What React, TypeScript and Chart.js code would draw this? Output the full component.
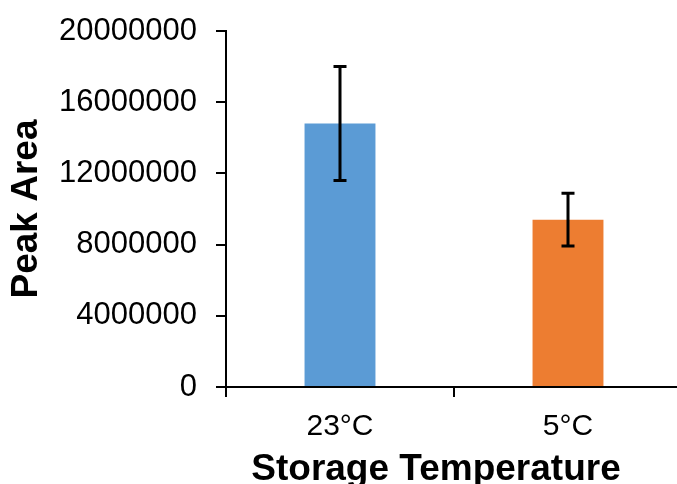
import React, { useEffect, useRef } from "react";
import { Chart, registerables } from "chart.js";

Chart.register(...registerables);

const categories = ["23°C", "5°C"];
const peakArea = [14800000, 9400000];
const errorValues = [3200000, 1480000];
const barColors = ["#5B9BD5", "#ED7D31"];
const yTicks = [0, 4000000, 8000000, 12000000, 16000000, 20000000];
const yTitle = "Peak Area";
const xTitle = "Storage Temperature";

const FONT = "'Liberation Sans', Arial, sans-serif";
const CANVAS_W = 700;
const CANVAS_H = 484;

const errorBarPlugin = {
  id: "errorBars",
  afterDatasetsDraw(chart: any) {
    const ctx = chart.ctx;
    const meta = chart.getDatasetMeta(0);
    const yScale = chart.scales.y;
    ctx.save();
    ctx.strokeStyle = "#000000";
    ctx.lineWidth = 3;
    meta.data.forEach((bar: any, i: number) => {
      const v = peakArea[i];
      const e = errorValues[i];
      const x = bar.x;
      const yTop = yScale.getPixelForValue(v + e);
      const yBot = yScale.getPixelForValue(v - e);
      const cap = 6.5;
      ctx.beginPath();
      ctx.moveTo(x, yTop);
      ctx.lineTo(x, yBot);
      ctx.moveTo(x - cap, yTop);
      ctx.lineTo(x + cap, yTop);
      ctx.moveTo(x - cap, yBot);
      ctx.lineTo(x + cap, yBot);
      ctx.stroke();
    });
    ctx.restore();
  },
};

const xTitlePlugin = {
  id: "xTitleOffset",
  afterDraw(chart: any) {
    const ctx = chart.ctx;
    const area = chart.chartArea;
    ctx.save();
    ctx.font = `bold 37px ${FONT}`;
    ctx.fillStyle = "#000000";
    ctx.textAlign = "center";
    ctx.textBaseline = "alphabetic";
    ctx.fillText(xTitle, area.left + 210, CANVAS_H - 4);
    ctx.restore();
  },
};

export default function App() {
  const canvasRef = useRef<HTMLCanvasElement | null>(null);

  useEffect(() => {
    if (!canvasRef.current) return;
    const chart = new Chart(canvasRef.current, {
      type: "bar",
      data: {
        labels: categories,
        datasets: [
          {
            data: peakArea,
            backgroundColor: barColors,
            borderWidth: 0,
            categoryPercentage: 1,
            barPercentage: 0.311,
          },
        ],
      },
      options: {
        responsive: false,
        animation: false,
        devicePixelRatio: 1,
        layout: { padding: { top: 31, right: CANVAS_W - 682, left: 0, bottom: 0 } },
        plugins: {
          legend: { display: false },
          tooltip: { enabled: false },
        },
        scales: {
          x: {
            offset: true,
            border: { display: true, color: "#000000", width: 2 },
            grid: {
              display: true,
              drawOnChartArea: false,
              drawTicks: true,
              tickLength: 10,
              color: "#000000",
              lineWidth: 2,
              offset: true,
            },
            ticks: {
              color: "#000000",
              font: { family: FONT, size: 30 },
              padding: 12,
              maxRotation: 0,
            },
            afterFit(scale: any) {
              scale.height = 97;
            },
          },
          y: {
            min: 0,
            max: 20000000,
            border: { display: true, color: "#000000", width: 2 },
            grid: {
              display: true,
              drawOnChartArea: false,
              drawTicks: true,
              tickLength: 10,
              color: "#000000",
              lineWidth: 2,
            },
            afterBuildTicks(scale: any) {
              scale.ticks = yTicks.map((v) => ({ value: v }));
            },
            ticks: {
              color: "#000000",
              font: { family: FONT, size: 31 },
              padding: 19,
              callback: (v: any) => String(v),
            },
            title: {
              display: true,
              text: yTitle,
              color: "#000000",
              font: { family: FONT, size: 37, weight: "bold" },
              padding: { top: 5, bottom: 0 },
            },
            afterFit(scale: any) {
              scale.width = 226;
              scale.paddingTop = 5;
              scale.paddingBottom = 5;
            },
          },
        },
      },
      plugins: [errorBarPlugin, xTitlePlugin],
    });
    return () => chart.destroy();
  }, []);

  return (
    <div
      style={{
        position: "absolute",
        left: 0,
        top: 0,
        width: 677,
        height: 484,
        overflow: "hidden",
        background: "#ffffff",
      }}
    >
      <canvas
        ref={canvasRef}
        width={CANVAS_W}
        height={CANVAS_H}
        style={{ display: "block", width: CANVAS_W, height: CANVAS_H }}
      />
    </div>
  );
}
